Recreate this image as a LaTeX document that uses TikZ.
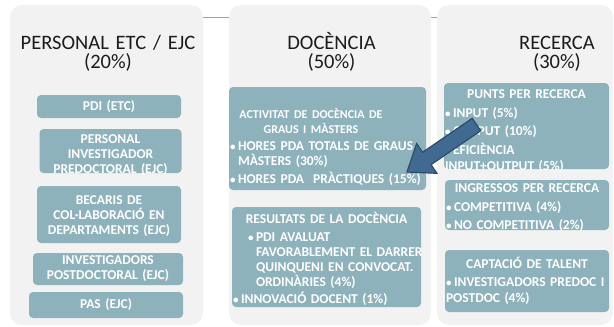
\documentclass[tikz,border=0pt]{standalone}
\usepackage{fontspec}
\setmainfont{Carlito}[BoldFont={Carlito Bold}]

\definecolor{panelgray}{RGB}{242,242,242}
\definecolor{boxteal}{RGB}{142,178,188}
\definecolor{arrowblue}{RGB}{64,106,146}
\definecolor{arrowedge}{RGB}{44,76,108}
\definecolor{titlegray}{RGB}{28,28,28}
\definecolor{linegray}{RGB}{160,160,160}

% item with a hanging bullet
\newcommand{\bul}[1]{\par\vspace{2.5pt}\hangindent=8pt\hangafter=1\noindent
  \makebox[8pt][l]{\fontsize{11}{11}\selectfont\textbullet}#1}
% lets the text of a box sit lower (used after the last line)
\newcommand{\sinkby}[1]{\vspace*{-#1}}

\tikzset{
  panel/.style={fill=panelgray, rounded corners=12pt},
  tealbox/.style={fill=boxteal, rounded corners=4pt, text=white, inner xsep=1pt, inner ysep=0pt,
    font=\fontsize{13.5}{15}\selectfont\bfseries},
  coltitle/.style={text=titlegray, font=\fontsize{20.5}{19}\selectfont, text width=200pt,
    align=center, anchor=base, inner sep=0pt},
}

\begin{document}
\begin{tikzpicture}[x=1pt,y=-1pt]
  \fill[white] (0,0) rectangle (614,327);
  \useasboundingbox (0,0) rectangle (614,327);
  % thin rule behind the columns
  \draw[linegray, line width=0.8pt] (200,17) -- (440,17);

  % columns
  \fill[panel] (10,5) rectangle (203,325);
  \fill[panel] (229,5) rectangle (431,325);
  \fill[panel] (437,5) rectangle (613,325);

  \node[coltitle] (tpers) at (108,49) {PERSONAL ETC / EJC\\(20\%)};
  \node[coltitle] (tdoc) at (331.5,49) {DOCÈNCIA\\(50\%)};
  \node[coltitle] (trec) at (557,49) {RECERCA\\(30\%)};

  % personal
  \node[tealbox, minimum width=144pt, minimum height=23pt, text width=142pt, align=center]
    (pdi) at (109,106.5) {PDI (ETC)};
  \node[tealbox, minimum width=142pt, minimum height=44pt, text width=140pt, align=center]
    (predoc) at (110.5,151) {PERSONAL\\INVESTIGADOR\\PREDOCTORAL (EJC)\sinkby{8pt}};
  \node[tealbox, minimum width=144pt, minimum height=57pt, text width=142pt, align=center]
    (becaris) at (109,214.5) {BECARIS DE\\COL·LABORACIÓ EN\\DEPARTAMENTS (EJC)\sinkby{4pt}};
  \node[tealbox, minimum width=150pt, minimum height=32pt, text width=148pt, align=center]
    (postdoc) at (108,269) {INVESTIGADORS\\POSTDOCTORAL (EJC)};
  \node[tealbox, minimum width=154pt, minimum height=26pt, text width=152pt, align=center]
    (pas) at (106,305) {PAS (EJC)};

  % docencia
  \node[tealbox, minimum width=197pt, minimum height=103pt, text width=195pt, align=left]
    (activ) at (327.5,138.5) {\noindent{\fontsize{12}{15}\selectfont
      \makebox[162pt]{ACTIVITAT DE DOCÈNCIA DE}\newline\makebox[162pt]{GRAUS I MÀSTERS}\par}
    \bul{\mbox{HORES PDA TOTALS DE GRAUS}\newline MÀSTERS (30\%)}
    \bul{\mbox{HORES PDA\ \ PRÀCTIQUES (15\%)}}\sinkby{16pt}};
  \node[tealbox, minimum width=189pt, minimum height=100pt, text width=187pt, align=left]
    (result) at (326.5,257) {\noindent\makebox[187pt]{RESULTATS DE LA DOCÈNCIA}\par\leftskip=15pt
    \bul{\mbox{PDI AVALUAT}\newline\mbox{FAVORABLEMENT EL DARRER}\newline
      \mbox{QUINQUENI EN CONVOCAT.}\newline ORDINÀRIES (4\%)}
    \bul{\mbox{INNOVACIÓ DOCENT (1\%)}}\sinkby{4pt}};

  % recerca
  \node[tealbox, minimum width=165pt, minimum height=86pt, text width=163pt, align=left,
    font=\fontsize{13.5}{16}\selectfont\bfseries]
    (punts) at (526.5,126) {\noindent\makebox[163pt]{PUNTS PER RECERCA}
    \bul{INPUT (5\%)}\bul{OUTPUT (10\%)}\bul{EFICIÈNCIA\newline INPUT+OUTPUT (5\%)}\sinkby{10pt}};
  \node[tealbox, minimum width=164pt, minimum height=50pt, text width=162pt, align=left,
    font=\fontsize{13.5}{16}\selectfont\bfseries]
    (ingres) at (527,205) {\noindent\makebox[162pt]{INGRESSOS PER RECERCA}
    \bul{COMPETITIVA (4\%)}\bul{NO COMPETITIVA (2\%)}\sinkby{6pt}};
  \node[tealbox, minimum width=164pt, minimum height=62pt, text width=162pt, align=left,
    font=\fontsize{13.5}{16}\selectfont\bfseries]
    (talent) at (527,281) {\noindent\makebox[162pt]{CAPTACIÓ DE TALENT}
    \bul{\mbox{INVESTIGADORS PREDOC I}\newline POSTDOC (4\%)}};

  % block arrow from recerca to docencia
  \filldraw[fill=arrowblue, draw=arrowedge, line width=1.2pt, line join=miter]
    (407,172) -- (416.66,143.60) -- (422.58,152.27) -- (472.27,118.31)
    -- (480.73,130.69) -- (431.04,164.65) -- (436.96,173.32) -- cycle;
\end{tikzpicture}
\end{document}
